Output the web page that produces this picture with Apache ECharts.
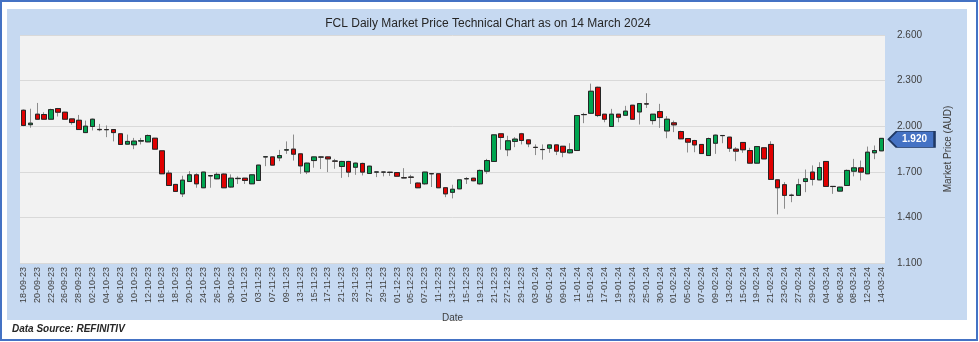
<!DOCTYPE html>
<html>
<head>
<meta charset="utf-8">
<script src="https://cdn.jsdelivr.net/npm/echarts@6/dist/echarts.min.js"></script>
<style>
  html, body { margin: 0; padding: 0; background: #ffffff; }
  #chart { width: 979px; height: 342px; }
</style>
</head>
<body>
<div id="chart"></div>
<script>
// Trading days (ASX), daily OHLC for FCL
const dates = [
  '18-09-23','19-09-23','20-09-23','21-09-23','22-09-23','25-09-23','26-09-23','27-09-23','28-09-23','29-09-23',
  '02-10-23','03-10-23','04-10-23','05-10-23','06-10-23','09-10-23','10-10-23','11-10-23','12-10-23','13-10-23',
  '16-10-23','17-10-23','18-10-23','19-10-23','20-10-23','23-10-23','24-10-23','25-10-23','26-10-23','27-10-23',
  '30-10-23','31-10-23','01-11-23','02-11-23','03-11-23','06-11-23','07-11-23','08-11-23','09-11-23','10-11-23',
  '13-11-23','14-11-23','15-11-23','16-11-23','17-11-23','20-11-23','21-11-23','22-11-23','23-11-23','24-11-23',
  '27-11-23','28-11-23','29-11-23','30-11-23','01-12-23','04-12-23','05-12-23','06-12-23','07-12-23','08-12-23',
  '11-12-23','12-12-23','13-12-23','14-12-23','15-12-23','18-12-23','19-12-23','20-12-23','21-12-23','22-12-23',
  '27-12-23','28-12-23','29-12-23','02-01-24','03-01-24','04-01-24','05-01-24','08-01-24','09-01-24','10-01-24',
  '11-01-24','12-01-24','15-01-24','16-01-24','17-01-24','18-01-24','19-01-24','22-01-24','23-01-24','24-01-24',
  '25-01-24','29-01-24','30-01-24','31-01-24','01-02-24','02-02-24','05-02-24','06-02-24','07-02-24','08-02-24',
  '09-02-24','12-02-24','13-02-24','14-02-24','15-02-24','16-02-24','19-02-24','20-02-24','21-02-24','22-02-24',
  '23-02-24','26-02-24','27-02-24','28-02-24','29-02-24','01-03-24','04-03-24','05-03-24','06-03-24','07-03-24',
  '08-03-24','11-03-24','12-03-24','13-03-24','14-03-24'
];

const opens = [
  2.105,2.010,2.079,2.077,2.046,2.116,2.092,2.048,2.039,1.958,
  1.998,1.979,1.978,1.978,1.950,1.882,1.878,1.902,1.897,1.921,
  1.838,1.691,1.617,1.555,1.636,1.680,1.595,1.673,1.654,1.685,
  1.600,1.655,1.658,1.621,1.643,1.798,1.798,1.792,1.843,1.849,
  1.818,1.700,1.774,1.797,1.798,1.771,1.735,1.768,1.730,1.755,
  1.689,1.698,1.698,1.697,1.695,1.661,1.665,1.626,1.621,1.688,
  1.687,1.595,1.565,1.588,1.654,1.658,1.621,1.704,1.768,1.950,
  1.845,1.900,1.950,1.910,1.861,1.847,1.855,1.877,1.868,1.825,
  1.840,2.076,2.085,2.256,2.079,1.998,2.079,2.072,2.138,2.094,
  2.147,2.037,2.096,1.969,2.022,1.965,1.919,1.906,1.880,1.807,
  1.888,1.939,1.928,1.849,1.893,1.840,1.757,1.858,1.880,1.647,
  1.615,1.546,1.545,1.636,1.698,1.647,1.768,1.604,1.573,1.610,
  1.704,1.726,1.687,1.825,1.838
];

const closes = [
  2.005,2.020,2.046,2.046,2.109,2.092,2.046,2.024,1.978,2.000,
  2.046,1.977,1.977,1.958,1.880,1.900,1.902,1.905,1.939,1.849,
  1.687,1.610,1.571,1.645,1.680,1.621,1.698,1.675,1.683,1.595,
  1.658,1.657,1.643,1.680,1.744,1.799,1.744,1.807,1.845,1.816,
  1.739,1.757,1.798,1.797,1.785,1.770,1.768,1.698,1.757,1.698,
  1.737,1.699,1.698,1.696,1.671,1.660,1.664,1.595,1.698,1.687,
  1.595,1.555,1.585,1.647,1.655,1.641,1.709,1.774,1.943,1.926,
  1.904,1.915,1.906,1.884,1.860,1.846,1.877,1.836,1.829,1.845,
  2.070,2.077,2.230,2.070,2.046,2.079,2.059,2.099,2.046,2.149,
  2.146,2.079,2.057,2.046,2.009,1.917,1.895,1.877,1.820,1.919,
  1.941,1.938,1.855,1.836,1.845,1.757,1.866,1.785,1.650,1.595,
  1.545,1.545,1.615,1.654,1.650,1.728,1.604,1.603,1.599,1.709,
  1.726,1.698,1.829,1.840,1.920
];

const lows = [
  2.000,1.990,2.045,2.045,2.045,2.064,2.045,2.010,1.975,1.955,
  1.972,1.967,1.928,1.900,1.878,1.880,1.849,1.880,1.895,1.847,
  1.685,1.608,1.568,1.534,1.633,1.595,1.593,1.595,1.651,1.593,
  1.595,1.620,1.620,1.619,1.640,1.737,1.742,1.770,1.818,1.774,
  1.687,1.685,1.727,1.718,1.698,1.720,1.660,1.665,1.680,1.676,
  1.687,1.665,1.670,1.673,1.669,1.658,1.620,1.593,1.615,1.600,
  1.593,1.533,1.525,1.585,1.620,1.638,1.615,1.687,1.765,1.845,
  1.803,1.862,1.880,1.862,1.810,1.780,1.825,1.810,1.796,1.820,
  1.838,2.020,2.080,2.060,2.026,1.995,2.026,2.070,2.044,2.011,
  2.120,2.011,1.989,1.921,1.961,1.915,1.827,1.829,1.818,1.805,
  1.818,1.888,1.831,1.770,1.825,1.753,1.755,1.783,1.648,1.420,
  1.457,1.500,1.543,1.566,1.610,1.645,1.600,1.555,1.571,1.608,
  1.670,1.643,1.685,1.783,1.836
];

const highs = [
  2.110,2.115,2.153,2.092,2.115,2.120,2.095,2.050,2.074,2.037,
  2.050,2.015,2.005,1.980,1.952,1.945,1.923,1.923,1.945,1.923,
  1.840,1.709,1.620,1.674,1.704,1.690,1.700,1.676,1.696,1.690,
  1.683,1.670,1.660,1.684,1.746,1.800,1.800,1.844,1.900,1.945,
  1.820,1.760,1.800,1.800,1.800,1.785,1.772,1.772,1.760,1.760,
  1.740,1.700,1.700,1.700,1.697,1.724,1.680,1.630,1.700,1.690,
  1.690,1.597,1.615,1.650,1.665,1.660,1.715,1.785,1.945,1.952,
  1.937,1.928,1.956,1.913,1.880,1.880,1.880,1.880,1.870,1.888,
  2.072,2.088,2.280,2.260,2.080,2.114,2.080,2.134,2.140,2.152,
  2.217,2.080,2.147,2.066,2.037,1.970,1.920,1.910,1.882,1.925,
  1.945,1.941,1.930,1.862,1.896,1.858,1.870,1.860,1.901,1.650,
  1.632,1.556,1.654,1.715,1.742,1.763,1.770,1.606,1.602,1.715,
  1.785,1.774,1.866,1.873,1.920
];

const yTicks = { min: 1.1, max: 2.6, step: 0.3 };
const lastPrice = closes[closes.length - 1];

// full candles (grey wicks) and body-only overlay (dark outline)
const ohlc = dates.map((d, i) => [opens[i], closes[i], lows[i], highs[i]]);
const bodies = dates.map((d, i) => [opens[i], closes[i],
  Math.min(opens[i], closes[i]), Math.max(opens[i], closes[i])]);

const chart = echarts.init(document.getElementById('chart'), null, { renderer: 'canvas' });

const baseFont = 'Liberation Sans, Arial, sans-serif';
const upColor = '#00A550';
const downColor = '#E00000';

chart.setOption({
  animation: false,
  backgroundColor: '#ffffff',
  textStyle: { fontFamily: baseFont },
  graphic: [
    // outer frame
    { type: 'rect', z: -10, silent: true,
      shape: { x: 1, y: 1, width: 976, height: 339 },
      style: { fill: '#ffffff', stroke: '#4472C4', lineWidth: 2 } },
    // light blue panel
    { type: 'rect', z: -9, silent: true,
      shape: { x: 7, y: 9, width: 960, height: 311 },
      style: { fill: '#C6D9F1' } },
    { type: 'text', left: 12, top: 324, silent: true,
      style: { text: 'Data Source: REFINITIV', fill: '#262626',
        font: 'italic bold 10px ' + baseFont } }
  ],
  title: {
    text: 'FCL Daily Market Price Technical Chart as on 14 March 2024',
    left: 483, top: 13, textAlign: 'center',
    textStyle: { fontSize: 12, fontWeight: 'normal', color: '#262626', fontFamily: baseFont }
  },
  grid: {
    left: 20, right: 94, top: 35, bottom: 79,
    show: true, backgroundColor: '#F2F2F2', borderWidth: 0
  },
  xAxis: {
    type: 'category',
    data: dates,
    boundaryGap: true,
    name: 'Date',
    nameLocation: 'middle',
    nameGap: 50,
    nameTextStyle: { fontSize: 10, color: '#404040' },
    axisLine: { show: false },
    axisTick: { show: false },
    axisLabel: { interval: 1, rotate: 90, fontSize: 9, color: '#404040', margin: 4 },
    splitLine: { show: false }
  },
  yAxis: {
    type: 'value',
    position: 'right',
    min: yTicks.min, max: yTicks.max, interval: yTicks.step,
    name: 'Market Price (AUD)',
    nameLocation: 'middle',
    nameGap: 58,
    nameTextStyle: { fontSize: 10, color: '#404040' },
    axisLine: { show: false },
    axisTick: { show: false },
    axisLabel: { fontSize: 10, color: '#404040', margin: 12,
      formatter: v => v.toFixed(3) },
    splitLine: { lineStyle: { color: '#D9D9D9', width: 1 } }
  },
  series: [{
    name: 'FCL',
    type: 'candlestick',
    data: ohlc,
    barWidth: 5,
    itemStyle: {
      color: upColor,
      color0: downColor,
      borderColor: '#8C8C8C',
      borderColor0: '#8C8C8C',
      borderWidth: 1
    },
    markPoint: {
      silent: true,
      data: [{
        coord: [dates.length - 1, lastPrice],
        value: lastPrice,
        symbol: 'path://M0,8 L8,0 L46,0 L46,16 L8,16 Z',
        symbolSize: [46, 16],
        symbolKeepAspect: false,
        symbolOffset: [30, 1],
        itemStyle: { color: '#4472C4', borderColor: '#1F3864', borderWidth: 1.5 },
        label: {
          show: true, position: 'inside', offset: [3, 0],
          formatter: p => Number(p.value).toFixed(3),
          color: '#ffffff', fontWeight: 'bold', fontSize: 10, fontFamily: baseFont
        }
      }]
    }
  }, {
    name: 'FCL body',
    type: 'candlestick',
    data: bodies,
    barWidth: 5,
    silent: true,
    itemStyle: {
      color: upColor,
      color0: downColor,
      borderColor: '#262626',
      borderColor0: '#262626',
      borderWidth: 1
    }
  }]
});
</script>
</body>
</html>
